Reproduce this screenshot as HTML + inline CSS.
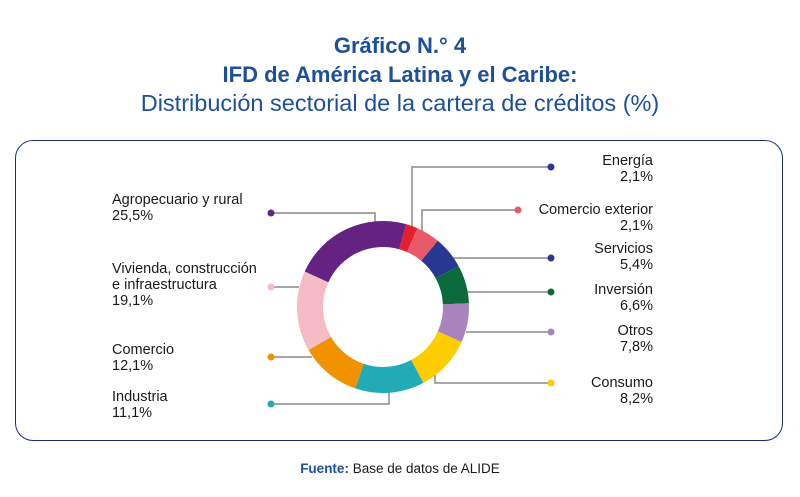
<!DOCTYPE html>
<html><head><meta charset="utf-8"><style>
html,body{margin:0;padding:0;background:#fff;}
body{width:800px;height:497px;position:relative;overflow:hidden;font-family:"Liberation Sans",sans-serif;}
.t{position:absolute;left:0;width:800px;text-align:center;color:#1d4f9a;}
.l{position:absolute;font-size:14.5px;line-height:16px;color:#1a1a1a;}
.r{text-align:right;}
</style></head><body>
<div class="t" style="top:33px;font-size:22px;font-weight:bold;">Gráfico N.° 4</div>
<div class="t" style="top:62px;font-size:22px;font-weight:bold;">IFD de América Latina y el Caribe:</div>
<div class="t" style="top:90px;font-size:23.5px;">Distribución sectorial de la cartera de créditos (%)</div>
<div style="position:absolute;left:15px;top:140px;width:766px;height:299px;border:1.5px solid #1f2f6e;border-radius:18px;"></div>
<svg id="s" width="800" height="497" style="position:absolute;left:0;top:0">
<g stroke="#8a8a8a" stroke-width="1.5" fill="none">
<polyline points="412,230 412,167 551,167"/>
<polyline points="422,234 422,210 518,210"/>
<polyline points="453,258 551,258"/>
<polyline points="467,292 551,292"/>
<polyline points="466,332 551,332"/>
<polyline points="435,375 435,383 551,383"/>
<polyline points="271,213 375,213 375,222"/>
<polyline points="271,287 299,287"/>
<polyline points="271,357 312,357"/>
<polyline points="271,404 389,404 389,392"/>
</g>
<g id="ring"></g>
<circle cx="551" cy="167" r="3.5" fill="#283890"/>
<circle cx="518" cy="210" r="3.5" fill="#e85a6a"/>
<circle cx="551" cy="258" r="3.5" fill="#283890"/>
<circle cx="551" cy="292" r="3.5" fill="#0b6a3a"/>
<circle cx="551" cy="332" r="3.5" fill="#a884bd"/>
<circle cx="551" cy="383" r="3.5" fill="#ffcc00"/>
<circle cx="271" cy="213" r="3.5" fill="#642383"/>
<circle cx="271" cy="287" r="3.5" fill="#f6bcc6"/>
<circle cx="271" cy="357" r="3.5" fill="#f39200"/>
<circle cx="271" cy="404" r="3.5" fill="#22aab5"/>
</svg>
<div class="l r" style="left:540px;width:113px;top:153px;">Energía<br>2,1%</div>
<div class="l r" style="left:500px;width:153px;top:202px;">Comercio exterior<br>2,1%</div>
<div class="l r" style="left:540px;width:113px;top:241px;">Servicios<br>5,4%</div>
<div class="l r" style="left:540px;width:113px;top:282px;">Inversión<br>6,6%</div>
<div class="l r" style="left:540px;width:113px;top:323px;">Otros<br>7,8%</div>
<div class="l r" style="left:540px;width:113px;top:375px;">Consumo<br>8,2%</div>
<div class="l" style="left:112px;top:192px;">Agropecuario y rural<br>25,5%</div>
<div class="l" style="left:112px;top:261px;">Vivienda, construcción<br>e infraestructura<br>19,1%</div>
<div class="l" style="left:112px;top:342px;">Comercio<br>12,1%</div>
<div class="l" style="left:112px;top:389px;">Industria<br>11,1%</div>
<div class="t" style="top:461px;font-size:13.5px;color:#1a1a1a;"><b style="color:#1d4f9a">Fuente:</b> Base de datos de ALIDE</div>
<script>
var b=[15.6,23.6,39.6,61.5,87.5,114,152,198.8,240,294.4,375.6];
var c=["#e4202e","#e85a6a","#283890","#0b6a3a","#a884bd","#ffcc00","#22aab5","#f39200","#f6bcc6","#642383"];
var cx=383,cy=307,R=86,r=60,h='';
function p(a,rr){a=a*Math.PI/180;return (cx+rr*Math.sin(a)).toFixed(2)+','+(cy-rr*Math.cos(a)).toFixed(2);}
for(var i=0;i<10;i++){var a0=b[i],a1=b[i+1],lg=(a1-a0)>180?1:0;
h+='<path fill="'+c[i]+'" d="M'+p(a0,R)+' A'+R+','+R+' 0 '+lg+' 1 '+p(a1,R)+' L'+p(a1,r)+' A'+r+','+r+' 0 '+lg+' 0 '+p(a0,r)+' Z"/>';}
document.getElementById('ring').innerHTML=h;
</script>
</body></html>
